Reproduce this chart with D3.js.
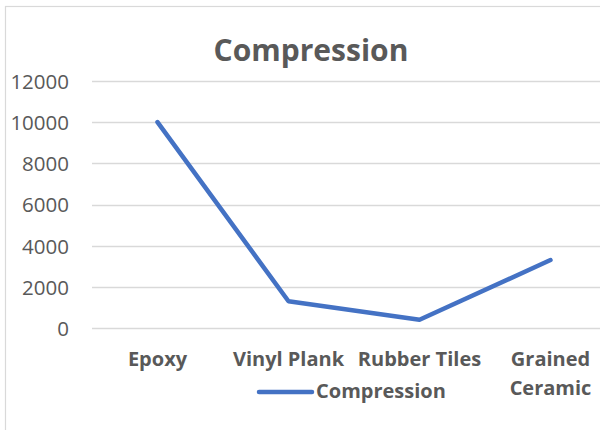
<!DOCTYPE html>
<html><head><meta charset="utf-8">
<script src="https://cdn.jsdelivr.net/npm/d3@7"></script>
<style>html,body{margin:0;padding:0;background:#fff;overflow:hidden}</style>
</head><body>
<svg id="c" width="600" height="430"></svg>
<script>
const categories = ["Epoxy", "Vinyl Plank", "Rubber Tiles", "Grained Ceramic"];
const compression = [10000, 1300, 400, 3300];
const yTicks = [0, 2000, 4000, 6000, 8000, 10000, 12000];
const seriesName = "Compression";
const titleText = "Compression";

(function () {
const svg = d3.select("#c");
const font = "'Open Sans', Lato, sans-serif";
const txt = "#595959";

// chart frame
svg.append("rect").attr("x", 5.5).attr("y", 6.5).attr("width", 700).attr("height", 500)
  .attr("fill", "#fff").attr("stroke", "#d9d9d9").attr("stroke-width", 1.2);

const pLeft = 92, pRight = 616, pTop = 81, pBottom = 328;
const x = d3.scaleBand().domain(categories).range([pLeft, pRight]);
const y = d3.scaleLinear().domain([0, 12000]).range([pBottom, pTop]);

// gridlines
svg.append("g").selectAll("line").data(yTicks).join("line")
  .attr("x1", pLeft).attr("x2", pRight)
  .attr("y1", d => Math.round(y(d)) + 0.5).attr("y2", d => Math.round(y(d)) + 0.5)
  .attr("stroke", "#d9d9d9").attr("stroke-width", 1.3);

// y axis labels
const yAxis = d3.axisLeft(y).tickValues(yTicks).tickFormat(d3.format("d")).tickSize(0).tickPadding(0);
const yg = svg.append("g").attr("transform", "translate(69,0)").call(yAxis);
yg.select(".domain").remove();
yg.selectAll("text").attr("font-family", font).attr("font-size", 20.5).attr("fill", txt).attr("dy", "0.36em");

// x axis labels
const xg = svg.append("g");
categories.forEach(c => {
  const cx = x(c) + x.bandwidth() / 2;
  const words = c === "Grained Ceramic" ? ["Grained", "Ceramic"] : [c];
  words.forEach((w, i) => {
    xg.append("text").attr("x", cx).attr("y", 366 + i * 29).attr("text-anchor", "middle")
      .attr("font-family", font).attr("font-weight", "bold").attr("font-size", 20).attr("fill", txt).text(w);
  });
});

// line
const line = d3.line().x((d, i) => x(categories[i]) + x.bandwidth() / 2).y(d => y(d));
svg.append("path").datum(compression).attr("d", line).attr("fill", "none")
  .attr("stroke", "#4472C4").attr("stroke-width", 4.5).attr("stroke-linecap", "round").attr("stroke-linejoin", "round");

// title
svg.append("text").attr("x", 311).attr("y", 61).attr("text-anchor", "middle")
  .attr("font-family", font).attr("font-weight", "bold").attr("font-size", 30).attr("fill", txt).text(titleText);

// legend
svg.append("line").attr("x1", 259).attr("x2", 312).attr("y1", 392).attr("y2", 392)
  .attr("stroke", "#4472C4").attr("stroke-width", 4.5).attr("stroke-linecap", "round");
svg.append("text").attr("x", 316).attr("y", 398).attr("font-family", font).attr("font-weight", "bold")
  .attr("font-size", 20).attr("fill", txt).text(seriesName);
})();
</script>
</body></html>
